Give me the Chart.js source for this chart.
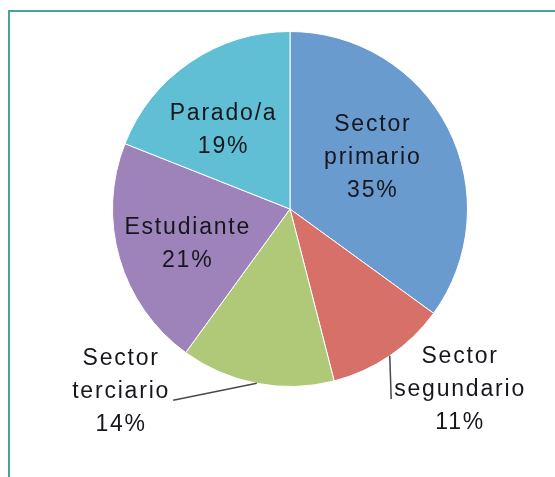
<!DOCTYPE html>
<html lang="es">
<head>
    <meta charset="UTF-8">
    <title>Situación laboral</title>
    <style>
        html, body {
            margin: 0;
            padding: 0;
            background: #ffffff;
            overflow: hidden;
        }
        #wrap {
            position: relative;
            width: 555px;
            height: 477px;
        }
        #marco {
            position: absolute;
            left: 8px;
            top: 10px;
            width: 600px;
            height: 500px;
            border-top: 2px solid #45a29e;
            border-left: 2px solid #45a29e;
        }
        canvas {
            position: absolute;
            left: 0;
            top: 0;
        }
    </style>
</head>
<body>
    <div id="wrap">
        <div id="marco"></div>
        <canvas id="tarta" width="555" height="477"></canvas>
    </div>

    <script src="https://cdn.jsdelivr.net/npm/chart.js"></script>
    <script>
        // datos del gráfico
        const categorias = ['Sector primario', 'Sector segundario', 'Sector terciario', 'Estudiante', 'Parado/a'];
        const etiquetas = [['Sector', 'primario'], ['Sector', 'segundario'], ['Sector', 'terciario'], ['Estudiante'], ['Parado/a']];
        const porcentajes = [35, 11, 14, 21, 19];
        const colores = ['#6a9bcf', '#d8706a', '#b0c978', '#9d83b9', '#60bfd4'];

        // donde va cada etiqueta: distancia (en radios) y giro respecto al centro del sector
        const colocacion = [
            { dist: 0.55, giro: -5, fuera: false },
            { dist: 1.40, giro: -9, fuera: true },
            { dist: 1.40, giro: 32, fuera: true },
            { dist: 0.61, giro: -3, fuera: false },
            { dist: 0.58, giro: -6, fuera: false }
        ];

        const fuente = '23px "Liberation Sans", Arial, sans-serif';
        const interlinea = 33;

        const etiquetasPlugin = {
            id: 'etiquetas',
            afterDatasetsDraw(chart) {
                const ctx = chart.ctx;
                const meta = chart.getDatasetMeta(0);
                const total = porcentajes.reduce((a, b) => a + b, 0);
                ctx.save();
                ctx.font = fuente;
                ctx.letterSpacing = '1.8px';
                ctx.fillStyle = '#16161e';
                ctx.textAlign = 'center';
                ctx.textBaseline = 'middle';

                meta.data.forEach((arc, i) => {
                    const p = arc.getProps(['x', 'y', 'startAngle', 'endAngle', 'outerRadius'], true);
                    const medio = (p.startAngle + p.endAngle) / 2;
                    const ang = medio + colocacion[i].giro * Math.PI / 180;
                    const r = p.outerRadius * colocacion[i].dist;
                    const cx = p.x + Math.cos(ang) * r;
                    const cy = p.y + Math.sin(ang) * r;

                    const pct = Math.round(porcentajes[i] / total * 100) + '%';
                    const lineas = etiquetas[i].concat([pct]);
                    const y0 = cy - (lineas.length - 1) * interlinea / 2;

                    lineas.forEach((t, k) => {
                        ctx.fillText(t, cx, y0 + k * interlinea);
                    });

                    // línea guía para las etiquetas de fuera
                    if (colocacion[i].fuera) {
                        const ax = p.x + Math.cos(medio) * p.outerRadius;
                        const ay = p.y + Math.sin(medio) * p.outerRadius;
                        const ancho = ctx.measureText(lineas[1]).width;
                        const ly = y0 + interlinea + 9;
                        const lx = ax < cx ? cx - ancho / 2 - 3 : cx + ancho / 2 + 3;
                        ctx.beginPath();
                        ctx.strokeStyle = '#4a4a4a';
                        ctx.lineWidth = 1.5;
                        ctx.moveTo(ax, ay);
                        ctx.lineTo(lx, ly);
                        ctx.stroke();
                    }
                });
                ctx.restore();
            }
        };

        const ctx = document.getElementById('tarta').getContext('2d');
        const grafico = new Chart(ctx, {
            type: 'pie',
            data: {
                labels: categorias,
                datasets: [{
                    data: porcentajes,
                    backgroundColor: colores,
                    borderColor: '#ffffff',
                    borderWidth: 1
                }]
            },
            options: {
                responsive: false,
                animation: false,
                layout: {
                    padding: { top: 31, bottom: 90, left: 112, right: 87 }
                },
                plugins: {
                    legend: { display: false },
                    tooltip: { enabled: false }
                }
            },
            plugins: [etiquetasPlugin]
        });
    </script>
</body>
</html>
